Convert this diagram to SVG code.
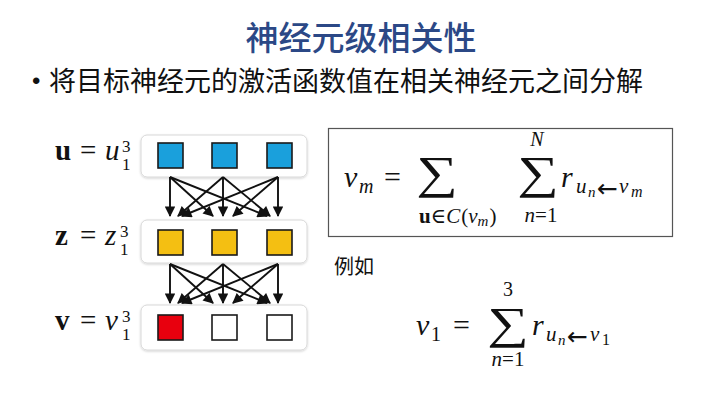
<svg xmlns="http://www.w3.org/2000/svg" width="720" height="405" viewBox="0 0 720 405">
<defs>
<marker id="ah" viewBox="0 0 10 10" refX="9" refY="5" markerWidth="6.5" markerHeight="5.5" orient="auto"><path d="M0,0 L10,5 L0,10 z" fill="#111"/></marker>
<filter id="sh" x="-10%" y="-20%" width="120%" height="150%"><feDropShadow dx="0" dy="1" stdDeviation="1.2" flood-color="#000" flood-opacity="0.18"/></filter>
</defs>
<style>
.cjk{font-family:"Noto Sans CJK SC","Noto Sans",sans-serif}
.m{font-family:"Liberation Serif","DejaVu Serif",serif;fill:#111}
.i{font-style:italic}
.b{font-weight:bold}
.la{font-family:"DejaVu Sans",sans-serif;font-style:normal;fill:#111}
.row{fill:#fff;stroke:#d8d8d8;stroke-width:1}
.sq{stroke:#1a1a1a;stroke-width:1.6}
.blue{fill:#1aa0dc}
.gold{fill:#f4bf12}
.red{fill:#e8000e}
.empty{fill:#fff}
.arr{stroke:#111;stroke-width:1.9;fill:none;marker-end:url(#ah)}
</style>
<rect width="720" height="405" fill="#fff"/>
<text id="title" class="cjk" x="361" y="50" font-size="33" font-weight="500" fill="#2b4886" text-anchor="middle">神经元级相关性</text>
<g id="bullet">
<text x="32" y="89" font-family="Liberation Sans,sans-serif" font-size="24" fill="#111">•</text>
<text class="cjk" x="49" y="91" font-size="27" fill="#111">将目标神经元的激活函数值在相关神经元之间分解</text>
</g>

<g id="layer-u">
<rect class="row" x="141" y="135" width="166" height="42" rx="6" filter="url(#sh)"/>
<rect class="sq blue" x="158" y="143" width="25" height="25"/>
<rect class="sq blue" x="212" y="143" width="25" height="25"/>
<rect class="sq blue" x="267" y="143" width="25" height="25"/>
<text class="m" font-size="29" y="160"><tspan x="55" class="b">u</tspan><tspan x="80">=</tspan><tspan x="105" class="i">u</tspan></text>
<text class="m" font-size="17" x="122" y="152">3</text>
<text class="m" font-size="17" x="122" y="170">1</text>
</g>
<g id="layer-z">
<rect class="row" x="141" y="220" width="166" height="43" rx="6" filter="url(#sh)"/>
<rect class="sq gold" x="158" y="230" width="25" height="25"/>
<rect class="sq gold" x="212" y="230" width="25" height="25"/>
<rect class="sq gold" x="267" y="230" width="25" height="25"/>
<text class="m" font-size="29" y="245"><tspan x="55" class="b">z</tspan><tspan x="80">=</tspan><tspan x="105" class="i">z</tspan></text>
<text class="m" font-size="17" x="120" y="237">3</text>
<text class="m" font-size="17" x="120" y="255">1</text>
</g>
<g id="layer-v">
<rect class="row" x="141" y="305" width="166" height="45" rx="6" filter="url(#sh)"/>
<rect class="sq red" x="158" y="315" width="25" height="25"/>
<rect class="sq empty" x="212" y="315" width="25" height="25"/>
<rect class="sq empty" x="267" y="315" width="25" height="25"/>
<text class="m" font-size="29" y="330"><tspan x="55" class="b">v</tspan><tspan x="80">=</tspan><tspan x="105" class="i">v</tspan></text>
<text class="m" font-size="17" x="122" y="322">3</text>
<text class="m" font-size="17" x="122" y="340">1</text>
</g>

<g id="connectors">
<path class="arr" d="M170,177 L170,216"/>
<path class="arr" d="M170,177 L213,216"/>
<path class="arr" d="M170,177 L267,216"/>
<path class="arr" d="M223,177 L178,216"/>
<path class="arr" d="M223,177 L223,216"/>
<path class="arr" d="M223,177 L270,216"/>
<path class="arr" d="M278,177 L182,216"/>
<path class="arr" d="M278,177 L233,216"/>
<path class="arr" d="M278,177 L278,216"/>
<path class="arr" d="M170,264 L170,303"/>
<path class="arr" d="M170,264 L213,303"/>
<path class="arr" d="M170,264 L267,303"/>
<path class="arr" d="M223,264 L178,303"/>
<path class="arr" d="M223,264 L223,303"/>
<path class="arr" d="M223,264 L270,303"/>
<path class="arr" d="M278,264 L182,303"/>
<path class="arr" d="M278,264 L233,303"/>
<path class="arr" d="M278,264 L278,303"/>
</g>

<g id="formula-box">
<rect x="328.5" y="128.5" width="344" height="108" fill="#fff" stroke="#555" stroke-width="1.2"/>
<text class="m i" font-size="30" x="344" y="187">v</text>
<text class="m i" font-size="20" x="359" y="193">m</text>
<text class="m" font-size="30" x="384" y="187">=</text>
<text class="m" font-size="54" transform="translate(437,188) scale(1.08,0.84)" text-anchor="middle">∑</text>
<text class="m" font-size="21" x="419" y="223"><tspan class="b">u</tspan><tspan>∈</tspan><tspan class="i">C</tspan><tspan dx="1">(</tspan><tspan class="i">v</tspan><tspan class="i" font-size="15" dy="3">m</tspan><tspan dx="1" dy="-3">)</tspan></text>
<text class="m" font-size="54" transform="translate(538,188) scale(1.08,0.84)" text-anchor="middle">∑</text>
<text class="m i" font-size="20" x="537" y="146" text-anchor="middle">N</text>
<text class="m" font-size="21" x="541" y="222" text-anchor="middle"><tspan class="i">n</tspan>=1</text>
<text class="m i" font-size="30" x="561" y="187">r</text>
<text class="m i" font-size="21" x="576" y="193">u</text>
<text class="m i" font-size="15" x="588" y="197">n</text>
<text class="la" font-size="25" x="597" y="197">←</text>
<text class="m i" font-size="21" x="619" y="193">v</text>
<text class="m i" font-size="16" x="631" y="197">m</text>
</g>

<g id="example">
<text class="cjk" font-size="20" x="334" y="274" fill="#111">例如</text>
<text class="m i" font-size="30" x="416" y="335">v</text>
<text class="m" font-size="20" x="431" y="341">1</text>
<text class="m" font-size="30" x="453" y="335">=</text>
<text class="m" font-size="54" transform="translate(508,338) scale(1.08,0.82)" text-anchor="middle">∑</text>
<text class="m" font-size="20" x="508" y="296" text-anchor="middle">3</text>
<text class="m" font-size="21" x="508" y="366" text-anchor="middle"><tspan class="i">n</tspan>=1</text>
<text class="m i" font-size="30" x="532" y="335">r</text>
<text class="m i" font-size="21" x="546" y="341">u</text>
<text class="m i" font-size="15" x="558" y="345">n</text>
<text class="la" font-size="25" x="567" y="345">←</text>
<text class="m i" font-size="21" x="590" y="341">v</text>
<text class="m" font-size="16" x="602" y="345">1</text>
</g>
</svg>
